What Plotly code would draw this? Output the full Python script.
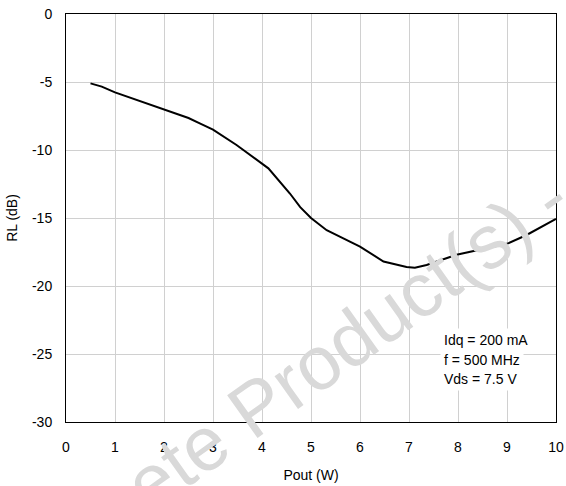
import plotly.graph_objects as go

pout_w = [0.5, 0.73, 1.0, 1.5, 2.0, 2.5, 2.73, 3.0, 3.48, 4.13, 4.57, 4.78, 5.0,
          5.32, 5.66, 6.0, 6.48, 6.95, 7.12, 7.36, 7.97, 8.59, 9.0, 9.4, 10.0]
rl_db = [-5.1, -5.34, -5.76, -6.38, -7.0, -7.65, -8.04, -8.5, -9.63, -11.35, -13.2,
         -14.2, -15.0, -15.9, -16.5, -17.1, -18.2, -18.6, -18.65, -18.45, -17.7,
         -17.2, -16.9, -16.25, -15.07]

x_ticks = list(range(0, 11))
x_labels = [str(v) for v in x_ticks]
y_ticks = [0, -5, -10, -15, -20, -25, -30]
y_labels = ["0", "-5", "-10", "-15", "-20", "-25", "-30"]
conditions = ["Idq = 200 mA", "f = 500 MHz", "Vds = 7.5 V"]
watermark = "ete Product(s) -"

FONT = "Arial, Liberation Sans, sans-serif"

fig = go.Figure()
fig.add_trace(go.Scatter(x=pout_w, y=rl_db, mode="lines",
                         line=dict(color="black", width=2), showlegend=False))

fig.update_layout(
    width=566, height=486,
    margin=dict(l=66, r=10, t=14, b=64),
    paper_bgcolor="white", plot_bgcolor="white",
    font=dict(family=FONT, size=14, color="black"),
    xaxis=dict(range=[0, 10], tickvals=x_ticks, ticktext=x_labels, automargin=False,
               showgrid=True, gridcolor="#d0d0d0",
               gridwidth=1, showline=True, linecolor="black", linewidth=1, mirror=True,
               zeroline=False, ticks="", ticklabelstandoff=12,
               title=dict(text="Pout (W)", font=dict(size=14), standoff=16)),
    yaxis=dict(range=[-30, 0], tickvals=y_ticks, ticktext=y_labels, automargin=False,
               showgrid=True, gridcolor="#d0d0d0",
               gridwidth=1, showline=True, linecolor="black", linewidth=1, mirror=True,
               zeroline=False, ticks="", ticklabelstandoff=10,
               title=dict(text="RL (dB)", font=dict(size=14), standoff=11)),
)

cond_y = [0.201, 0.153, 0.105]
for txt, yy in zip(conditions, cond_y):
    fig.add_annotation(x=0.763, y=yy, xref="paper", yref="paper", xanchor="left",
                       yanchor="middle", text=txt, align="left", showarrow=False,
                       bgcolor="white", borderpad=3, font=dict(size=14, family=FONT))

fig.add_annotation(x=0.573, y=0.198, xref="paper", yref="paper", text=watermark,
                   xanchor="center", yanchor="middle",
                   textangle=-35.5, showarrow=False,
                   font=dict(size=76, family=FONT, color="#d9d9d9"))

fig.write_html("out.html", config={"displayModeBar": False},
               post_script="document.body.style.margin='0';")
